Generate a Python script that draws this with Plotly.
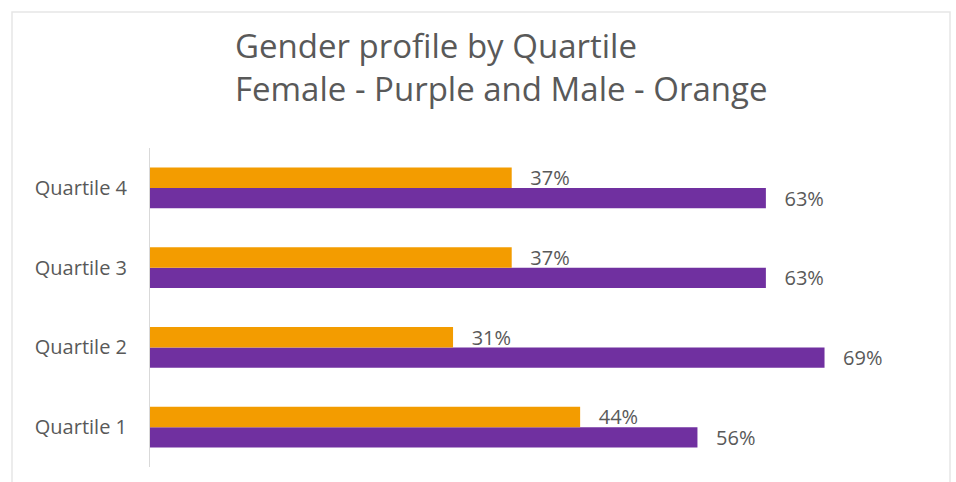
import plotly.graph_objects as go

categories = ["Quartile 1", "Quartile 2", "Quartile 3", "Quartile 4"]
female_pct = [56, 69, 63, 63]
male_pct = [44, 31, 37, 37]

FONT = "Open Sans"
GREY = "#595959"
PAD = "\u00a0\u00a0\u00a0"

fig = go.Figure()
fig.add_trace(go.Bar(
    y=categories, x=female_pct, orientation="h", name="Female",
    marker=dict(color="#7030A0", line=dict(width=0)),
    text=[f"{PAD}{v}%" for v in female_pct], textposition="outside",
    constraintext="none", cliponaxis=False,
    textfont=dict(family=FONT, size=20, color=GREY),
))
fig.add_trace(go.Bar(
    y=categories, x=male_pct, orientation="h", name="Male",
    marker=dict(color="#F39C00", line=dict(width=0)),
    text=[f"{PAD}{v}%" for v in male_pct], textposition="outside",
    constraintext="none", cliponaxis=False,
    textfont=dict(family=FONT, size=20, color=GREY),
))

fig.update_layout(
    width=956, height=482,
    margin=dict(l=150, r=21, t=148, b=15, autoexpand=False),
    paper_bgcolor="white", plot_bgcolor="white",
    barmode="group", bargap=0.49, bargroupgap=0,
    showlegend=False,
    font=dict(family=FONT, color=GREY),
    title=dict(
        text="Gender profile by Quartile<br>Female - Purple and Male - Orange",
        xref="container", yref="container", x=235 / 956, xanchor="left",
        y=1 - 58 / 482, yanchor="top",
        font=dict(family=FONT, size=33, color=GREY),
    ),
    xaxis=dict(range=[0, 80.3], visible=False, fixedrange=True, automargin=False),
    yaxis=dict(
        categoryorder="array", categoryarray=categories,
        showline=True, linecolor="#D9D9D9", linewidth=1,
        showgrid=False, zeroline=False, ticks="",
        ticklabelstandoff=18, automargin=False, fixedrange=True,
        tickfont=dict(family=FONT, size=20, color=GREY),
    ),
    shapes=[dict(
        type="rect", xref="paper", yref="paper",
        x0=-(150 - 12) / 785, x1=(950 - 150) / 785,
        y0=-1.0, y1=1 + (148 - 12) / 319,
        line=dict(color="#E6E6E6", width=1.5), fillcolor="rgba(0,0,0,0)",
        layer="below",
    )],
)

fig.write_html(
    "out.html",
    config={"displayModeBar": False},
    post_script="document.body.style.margin='0';document.body.style.padding='0';",
)
